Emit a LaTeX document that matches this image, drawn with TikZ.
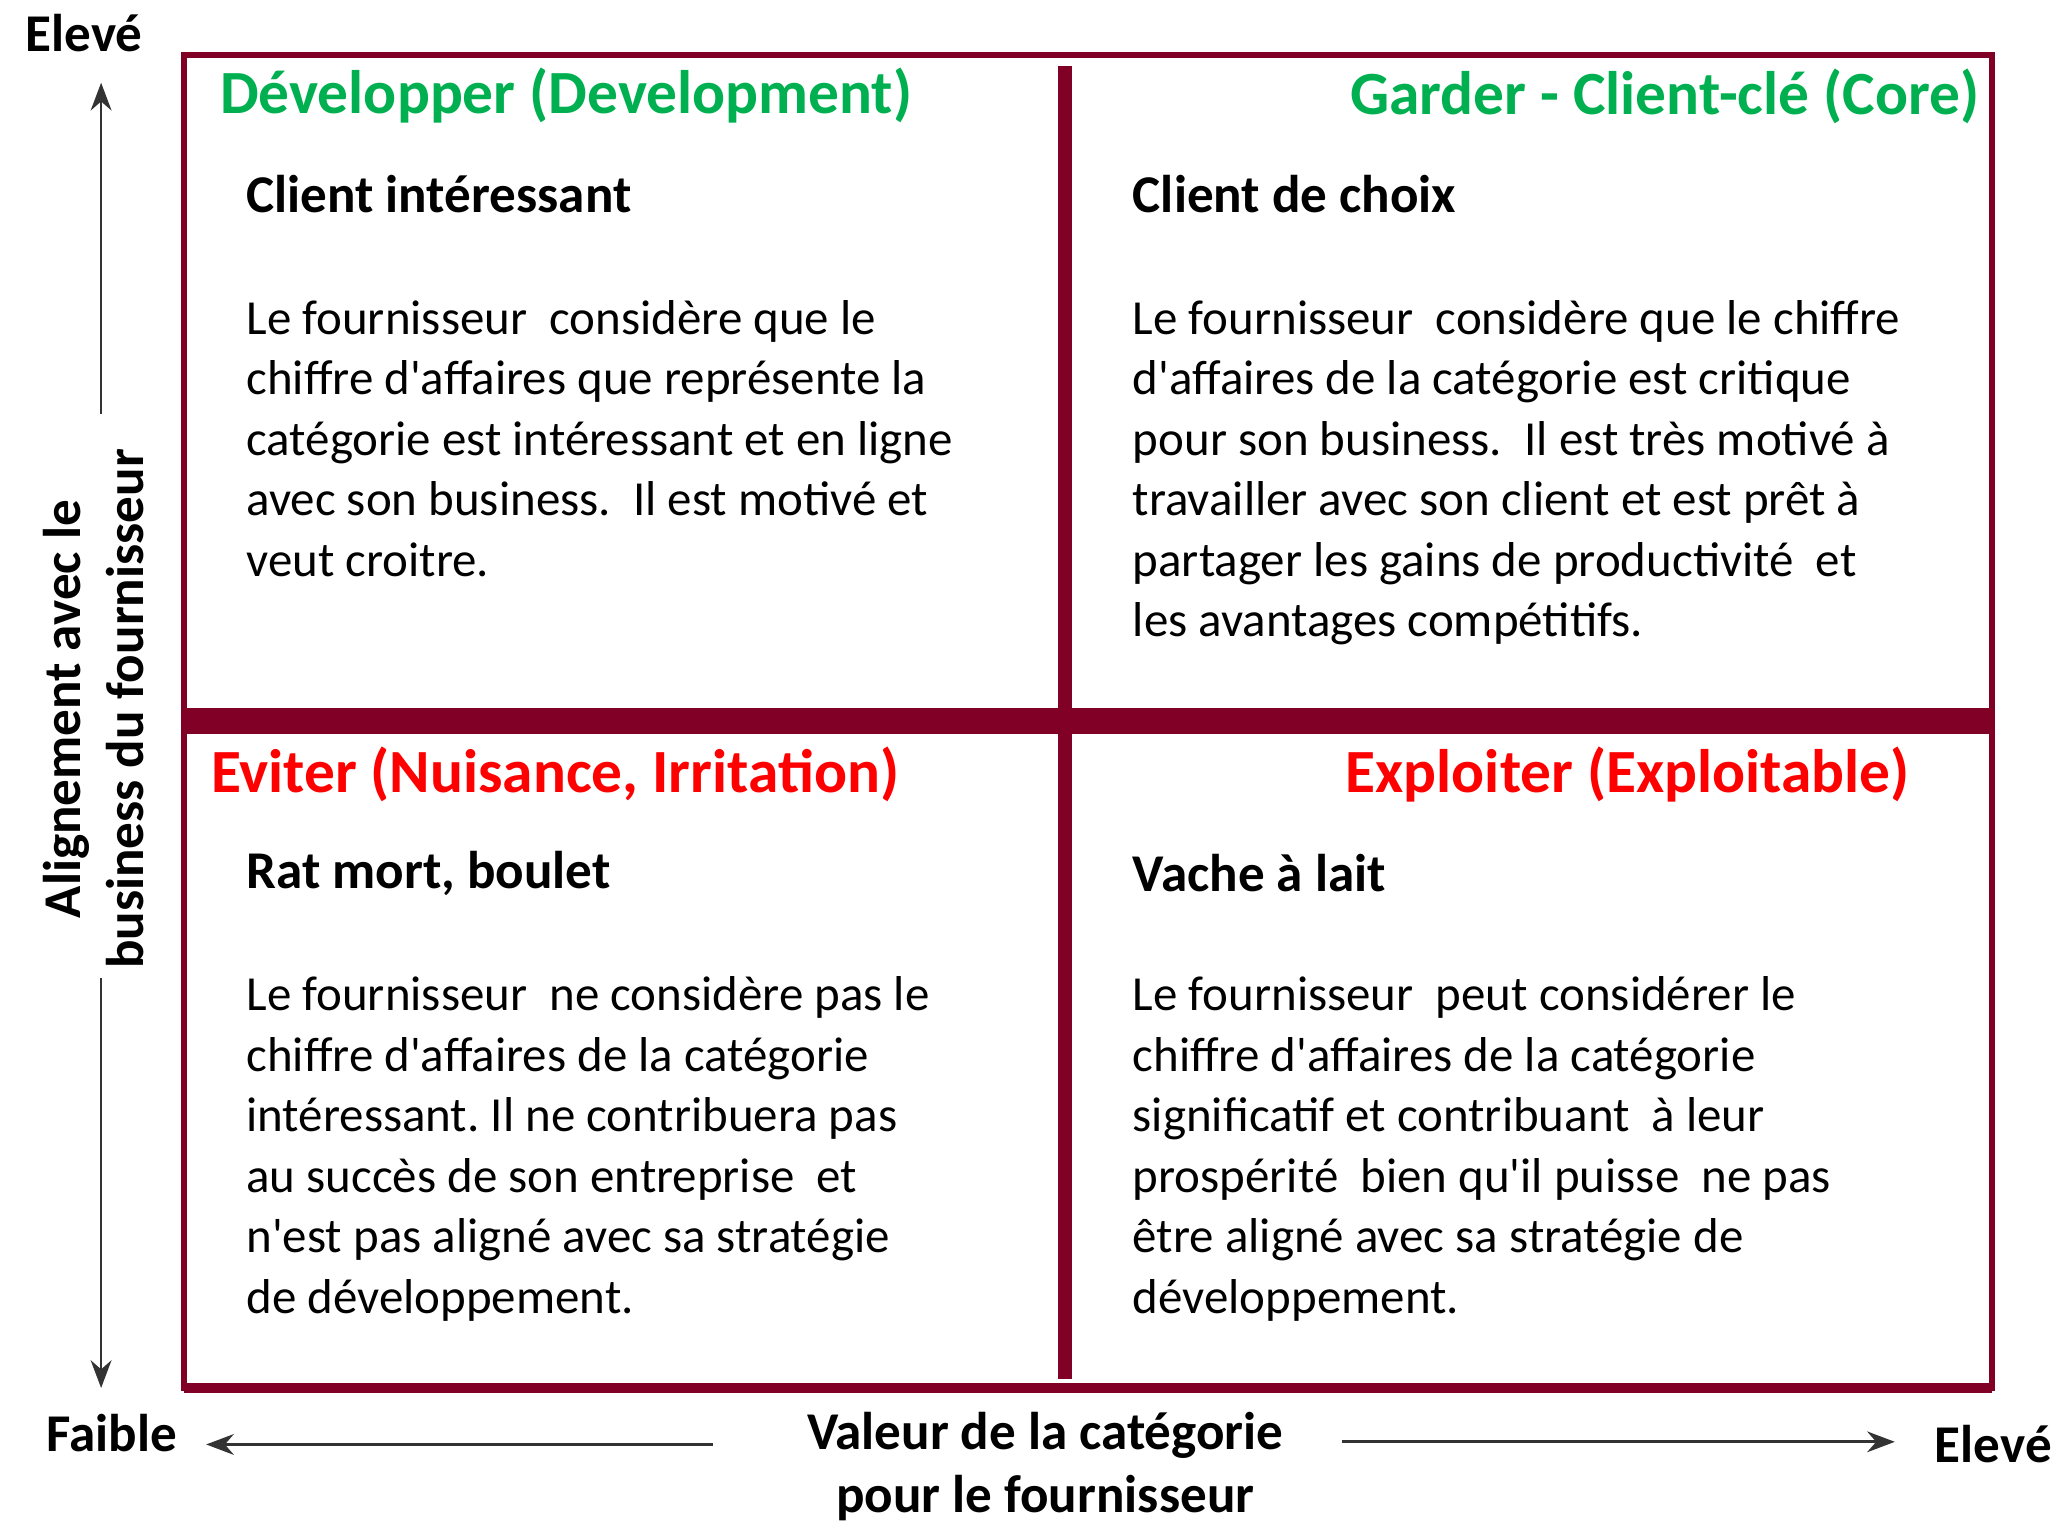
\documentclass[tikz,border=0pt]{standalone}
\usepackage{fontspec}
\setmainfont{Carlito}[Ligatures=TeXOff]
\usepackage{tikz}
\usetikzlibrary{positioning,arrows.meta}

\definecolor{borderred}{RGB}{128,0,38}
\definecolor{titlegreen}{RGB}{0,176,80}
\definecolor{titlered}{RGB}{255,0,0}

\begin{document}
\begin{tikzpicture}[x=0.01cm,y=-0.01cm,
						% Define styles for the texts and the axes
						title style/.style={font=\fontsize{13.3}{16}\selectfont\bfseries, inner sep=0pt},
						sub style/.style={font=\fontsize{11.5}{14}\selectfont\bfseries, anchor=west, inner sep=0pt},
						body style/.style={font=\fontsize{10.6}{13.1}\selectfont, align=left, anchor=north west, inner sep=0pt},
						axis label/.style={font=\fontsize{11.5}{13.6}\selectfont\bfseries, inner sep=0pt},
						axis arrow/.style={-{Stealth[length=6pt,width=4.5pt]}, black!80, line width=0.6pt}
						]
						\useasboundingbox (0,0) rectangle (1568,1160);
						
						% Frame and the cross
						\draw[borderred, line width=1.2pt] (140,42) rectangle (1517,1057);
						\draw[borderred, line width=2pt] (140,1057) -- (1517,1057);
						\fill[borderred] (140,539) rectangle (1517,559);
						\fill[borderred] (806,50) rectangle (816,1050);
						
						% Titles of the four quadrants
						\node[title style, text=titlegreen, anchor=west] (devt) at (167,73) {Développer (Development)};
						\node[title style, text=titlegreen, anchor=east] (core) at (1508,73) {Garder - Client-clé (Core)};
						\node[title style, text=titlered, anchor=west] (evit) at (160,590) {Eviter (Nuisance, Irritation)};
						\node[title style, text=titlered, anchor=east] (expl) at (1455,590) {Exploiter (Exploitable)};
						
						\node[sub style] (devt sub) at (187,148) {Client intéressant};
						\node[sub style] (core sub) at (862,148) {Client de choix};
						\node[sub style] (evit sub) at (187,665) {Rat mort, boulet};
						\node[sub style] (expl sub) at (862,665) {Vache à lait};
						
						\node[body style] (devt text) at (187,228) {Le fournisseur\ \ considère que le\\chiffre d'affaires que\ représente la\\catégorie est intéressant\ et en ligne\\avec son business.\ \ Il est motivé et\\veut croitre.};
						\node[body style] (core text) at (862,228) {Le fournisseur\ \ considère que le chiffre\\d'affaires de la catégorie est critique\\pour son business.\ \ Il est très motivé à\\travailler avec son client et est prêt à\\partager\ les gains de productivité\ \ et\\les avantages compétitifs.};
						\node[body style] (evit text) at (187,743) {Le fournisseur\ \ ne considère\ pas le\\chiffre d'affaires de la catégorie\\intéressant.\ Il ne contribuera\ pas\\au succès de son entreprise\ \ et\\n'est pas aligné avec sa stratégie\\de développement.};
						\node[body style] (expl text) at (862,743) {Le fournisseur\ \ peut considérer le\\chiffre d'affaires de la catégorie\\significatif et contribuant\ \ à leur\\prospérité\ \ bien qu'il puisse\ \ ne pas\\être aligné avec sa stratégie de\\développement.};
						
						% --- Axes ---
						\node[axis label] (y high) at (64,25) {Elevé};
						\node[axis label, rotate=90, align=center] (y name) at (71,540) {Alignement avec le\\business du fournisseur};
						\node[axis label] (x low) at (85,1091) {Faible};
						\node[axis label] (x high) at (1518,1100) {Elevé};
						\node[axis label, align=center] (x name) at (796,1117) {Valeur de la catégorie\\pour le fournisseur};
						
						\coordinate (up from) at (77,315);
						\coordinate (up to) at (77,63);
						\coordinate (down from) at (77,745);
						\coordinate (down to) at (77,1057);
						\coordinate (left from) at (543,1100);
						\coordinate (left to) at (157,1100);
						\coordinate (right from) at (1022,1098);
						\coordinate (right to) at (1443,1098);
						
						\draw[axis arrow] (up from) -- (up to);
						\draw[axis arrow] (down from) -- (down to);
						\draw[axis arrow] (left from) -- (left to);
						\draw[axis arrow] (right from) -- (right to);
					\end{tikzpicture}
\end{document}
